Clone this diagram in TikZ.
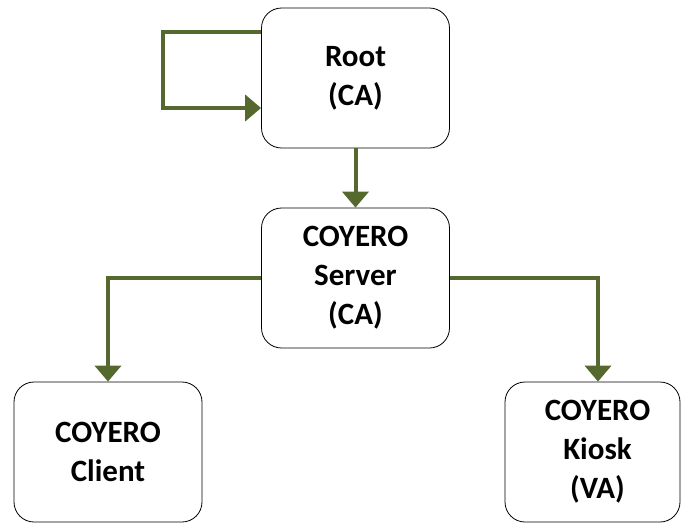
\documentclass[tikz,border=0pt]{standalone}
\usepackage{fontspec}
\setmainfont{Carlito}
\usepackage{xcolor}
\usetikzlibrary{arrows.meta}

\definecolor{olivelink}{RGB}{85,105,47}

\tikzset{
	entity/.style={draw, rounded corners=20pt, line width=0.8pt, align=center,
		minimum width=188pt, minimum height=140pt, inner sep=0pt,
		font=\fontsize{31}{39}\selectfont\bfseries},
	link/.style={draw=olivelink, line width=4pt,
		-{Triangle[length=16pt,width=26pt]}}
}

\begin{document}
\begin{tikzpicture}[x=1pt,y=-1pt]
\useasboundingbox (0,0) rectangle (681,523);
%
\node[entity] (root) at (355.5,78) {Root\\(CA)};
\node[entity] (server) at (355.5,278) {COYERO\\Server\\(CA)};
\node[entity] (client) at (108,452) {COYERO\\Client};
\node[entity, minimum width=175pt] (kiosk) at (592.5,452) {\hspace*{10pt}COYERO\\\hspace*{10pt}Kiosk\\\hspace*{10pt}(VA)};
%
\draw[link] ([yshift=46pt]root.west) -- ++(-98,0) |- ([yshift=-30pt]root.west);
\draw[link] (root.south) -- (server.north);
\draw[link] (server.west) -| (client.north);
\draw[link] (server.east) -| ([xshift=5.5pt]kiosk.north);
\end{tikzpicture}
\end{document}
